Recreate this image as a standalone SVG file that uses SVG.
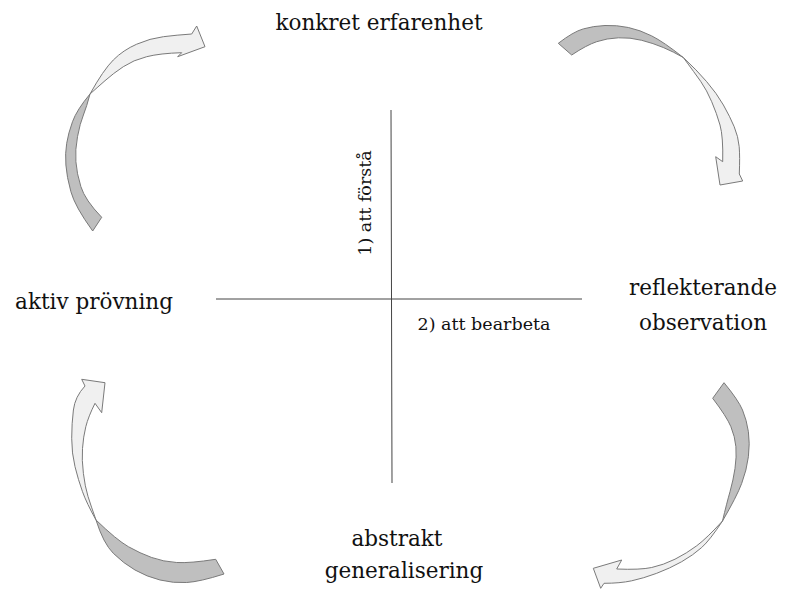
<svg xmlns="http://www.w3.org/2000/svg" width="802" height="589" viewBox="0 0 802 589">
<style>
.lbl{font-family:"DejaVu Serif","Liberation Serif",serif;font-size:21.5px;fill:#111;}
.sm{font-family:"DejaVu Serif","Liberation Serif",serif;font-size:17.5px;fill:#111;}
.dk{fill:#bfbfbf;stroke:#7a7a7a;stroke-width:1;stroke-linejoin:round;}
.lt{fill:#f0f0f0;stroke:#7a7a7a;stroke-width:1;stroke-linejoin:round;}
.ax{stroke:#444;stroke-width:1;fill:none;}
</style>
<rect width="802" height="589" fill="#fff"/>
<g id="connectors">
  <g id="arrow-tl">
    <path class="dk" d="M92.7,231 Q75,206.7 70.9,191.7 Q66.7,176.7 65.9,165 Q65,153.3 66.7,143.3 Q68.3,133.3 72.5,121.7 Q76.7,110 90,94 Q86.7,106.7 83.4,115 Q80,123.3 77.5,136.7 Q75,150 75.9,161.7 Q76.7,173.3 80.9,186.7 Q85,200 101.7,217.3 Z"/>
    <path class="lt" d="M90,94 Q103.3,70 113.3,60 Q123.3,50 136.7,44.2 Q150,38.3 163.4,36.7 Q176.7,35 191.7,34 L196.7,26 L205,46.7 L177.7,56.7 L181.7,52.7 Q160,53.3 146.7,56.7 Q133.3,60 123.3,66.7 Q113.3,73.3 105,80.7 Q96.7,88 90,94 Z"/>
  </g>
  <g id="arrow-tr">
    <path class="dk" d="M558.3,43.3 Q573.3,31.7 583.3,28.9 Q593.3,26 605,25.5 Q616.7,25 628.4,27.5 Q640,30 651.7,35.9 Q663.3,41.7 683.3,57.5 Q673.3,51.7 663.3,47.5 Q653.3,43.3 641.7,40.3 Q630,37.3 618.4,37.8 Q606.7,38.3 596.7,41.7 Q586.7,45 571.7,55 Z"/>
    <path class="lt" d="M683.3,57.5 Q696.7,70 706.7,81.7 Q716.7,93.3 723.4,105 Q730,116.7 734.2,126.7 Q738.3,136.7 739.2,146.7 Q740,156.7 739.3,174 L742.7,181 L720,185 L715.7,156.7 L722.7,161.7 Q723.3,136.7 720,125 Q716.7,113.3 711.7,101.7 Q706.7,90 700.9,81.7 Q695,73.3 683.3,57.5 Z"/>
  </g>
  <g id="arrow-br">
    <path class="dk" d="M724,382.7 Q738.3,400 742.5,410 Q746.7,420 748.4,431.7 Q750,443.3 748.4,456.7 Q746.7,470 741.7,483.4 Q736.7,496.7 722.5,521 Q726.7,503.3 730,491.7 Q733.3,480 735,468.4 Q736.7,456.7 735.9,446.7 Q735,436.7 730.9,426.7 Q726.7,416.7 712.7,398.3 Z"/>
    <path class="lt" d="M722.5,521 Q710,540 701.7,547.5 Q693.3,555 681.7,561.7 Q670,568.3 656.7,573.3 Q643.3,578.3 631.7,580.8 Q620,583.3 604,583.3 L600.7,588.3 L593.3,568.3 L621.7,560 L616.7,569 Q640,570 651.7,567.5 Q663.3,565 675,559.2 Q686.7,553.3 696.7,545.8 Q706.7,538.3 722.5,521 Z"/>
  </g>
  <g id="arrow-bl">
    <path class="dk" d="M224,574 Q200,581.7 186.7,582.5 Q173.3,583.3 160,580 Q146.7,576.7 135,570 Q123.3,563.3 113.3,553.3 Q103.3,543.3 96,520 Q116.7,540 128.4,546.7 Q140,553.3 151.7,557.5 Q163.3,561.7 176.7,562.5 Q190,563.3 215.7,559.3 Z"/>
    <path class="lt" d="M96,520 Q86.7,503.3 82.5,491.7 Q78.3,480 75,466.7 Q71.7,453.3 71.7,438.3 Q71.7,423.3 73.4,410 Q75,396.7 85,386 L81.7,379.3 L105,382.7 L101.7,412.7 L95,403.3 Q88.3,416.7 85.8,426.7 Q83.3,436.7 82.5,448.4 Q81.7,460 83.4,473.4 Q85,486.7 88,496.4 Q91,506 96,520 Z"/>
  </g>
  <g id="axes">
    <line class="ax" x1="391" y1="110" x2="392" y2="483"/>
    <line class="ax" x1="216" y1="299" x2="582" y2="299"/>
  </g>
</g>
<g id="node-konkret"><text class="lbl" x="379" y="30" text-anchor="middle">konkret erfarenhet</text></g>
<g id="node-aktiv"><text class="lbl" x="94" y="309" text-anchor="middle">aktiv prövning</text></g>
<g id="node-reflekterande"><text class="lbl" x="703" y="295" text-anchor="middle">reflekterande</text><text class="lbl" x="703" y="330" text-anchor="middle">observation</text></g>
<g id="node-abstrakt"><text class="lbl" x="397" y="546" text-anchor="middle">abstrakt</text><text class="lbl" x="404" y="578" text-anchor="middle">generalisering</text></g>
<g id="label-forsta"><text class="sm" transform="translate(371,203) rotate(-90)" text-anchor="middle">1) att förstå</text></g>
<g id="label-bearbeta"><text class="sm" x="484" y="330" text-anchor="middle">2) att bearbeta</text></g>
</svg>
